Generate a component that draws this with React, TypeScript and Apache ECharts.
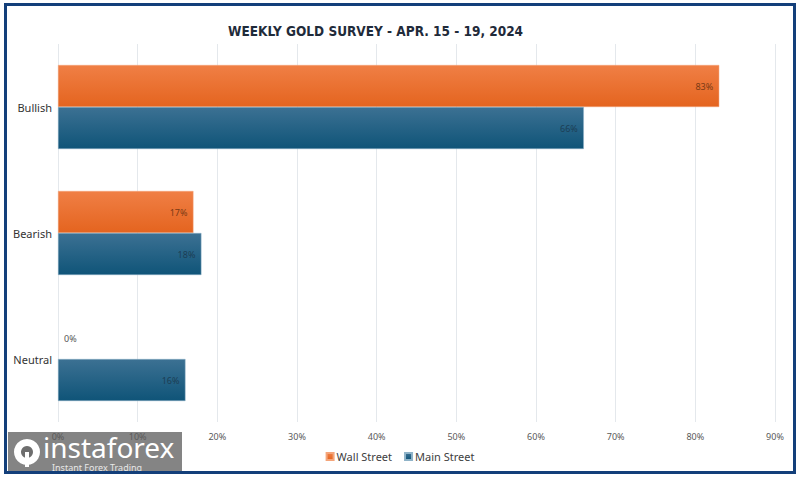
import React, { useEffect, useRef } from "react";
import * as echarts from "echarts";

const categories = ["Bullish", "Bearish", "Neutral"];
const wallStreet = [83, 17, 0];
const mainStreet = [66, 18, 16];
const seriesNames = ["Wall Street", "Main Street"];
const titleText = "WEEKLY GOLD SURVEY - APR. 15 - 19, 2024";

export default function App() {
  const ref = useRef<HTMLDivElement>(null);
  useEffect(() => {
    if (!ref.current) return;
    const chart = echarts.init(ref.current, undefined, { renderer: "svg" });
    const orange = new echarts.graphic.LinearGradient(0, 0, 0, 1, [
      { offset: 0, color: "#f07f45" },
      { offset: 1, color: "#e4641f" },
    ]);
    const blue = new echarts.graphic.LinearGradient(0, 0, 0, 1, [
      { offset: 0, color: "#3c7193" },
      { offset: 1, color: "#0f5478" },
    ]);
    const labelCommon = {
      show: true,
      position: "insideRight" as const,
      distance: 6,
      fontSize: 9,
      fontFamily: "Noto Sans",
      formatter: (p: any) => p.value + "%",
    };
    chart.setOption({
      animation: false,
      backgroundColor: "#ffffff",
      title: {
        text: titleText,
        left: 223,
        top: 19,
        textStyle: {
          fontFamily: "'DejaVu Sans Condensed', 'Roboto'",
          fontWeight: "bold",
          fontSize: 13.5,
          color: "#1f2b3a",
        },
      },
      legend: {
        data: seriesNames,
        bottom: 10,
        left: "center",
        itemWidth: 7,
        itemHeight: 7,
        itemGap: 12,
        icon: "rect",
        textStyle: { fontFamily: "Noto Sans", fontSize: 11, color: "#404040", padding: [0, 0, 0, -2] },
      },
      grid: { left: 58, right: 25, top: 44, bottom: 55, containLabel: false },
      xAxis: {
        type: "value",
        min: 0,
        max: 90,
        interval: 10,
        axisLine: { show: false },
        axisTick: { show: false },
        splitLine: { lineStyle: { color: "#e4e8ec", width: 1 } },
        axisLabel: {
          formatter: "{value}%",
          fontFamily: "Noto Sans",
          fontSize: 9,
          color: "#595959",
          margin: 10,
        },
      },
      yAxis: {
        type: "category",
        data: categories,
        inverse: true,
        axisLine: { show: false },
        axisTick: { show: false },
        axisLabel: { fontFamily: "Noto Sans", fontSize: 11, color: "#333333", margin: 6 },
      },
      series: [
        {
          name: seriesNames[0],
          type: "bar",
          barWidth: 42,
          barGap: "0%",
          itemStyle: { color: orange, borderColor: "#f4a57a", borderWidth: 0.5 },
          label: { ...labelCommon, color: "#7a3a15" },
          data: wallStreet.map((v) =>
            v === 0
              ? {
                  value: v,
                  itemStyle: { borderWidth: 0 },
                  label: { position: "right", distance: 6, color: "#555555" },
                }
              : v
          ),
        },
        {
          name: seriesNames[1],
          type: "bar",
          barWidth: 42,
          barGap: "0%",
          itemStyle: { color: blue, borderColor: "#8fb3c8", borderWidth: 0.5 },
          label: { ...labelCommon, color: "#1c3e55" },
          data: mainStreet,
        },
      ],
      graphic: [
        {
          type: "rect",
          shape: { x: 5.5, y: 4.5, width: 789, height: 468 },
          style: { fill: "none", stroke: "#133f7a", lineWidth: 3 },
          z: 100,
        },
        {
          type: "group",
          z: 200,
          children: [
            {
              type: "rect",
              shape: { x: 8, y: 432, width: 174, height: 41 },
              style: { fill: "rgba(110,110,110,0.85)" },
            },
            {
              type: "circle",
              shape: { cx: 27, cy: 452, r: 13 },
              style: { fill: "#ffffff" },
            },
            {
              type: "circle",
              shape: { cx: 27, cy: 452, r: 6 },
              style: { fill: "rgba(110,110,110,1)" },
            },
            {
              type: "rect",
              shape: { x: 25, y: 452, width: 4, height: 15 },
              style: { fill: "#ffffff" },
            },
            {
              type: "text",
              style: {
                text: "instaforex",
                x: 43,
                y: 461,
                verticalAlign: "bottom",
                fontFamily: "Noto Sans",
                fontSize: 28,
                lineHeight: 28,
                fill: "#ffffff",
              },
            },
            {
              type: "text",
              style: {
                text: "Instant Forex Trading",
                x: 52,
                y: 462,
                fontFamily: "Noto Sans",
                fontSize: 9,
                lineHeight: 10,
                fill: "#e8e8e8",
              },
            },
          ],
        },
      ],
    });
    return () => chart.dispose();
  }, []);
  return (
    <div
      ref={ref}
      style={{ position: "fixed", left: 0, top: 0, width: 800, height: 477 }}
    />
  );
}
